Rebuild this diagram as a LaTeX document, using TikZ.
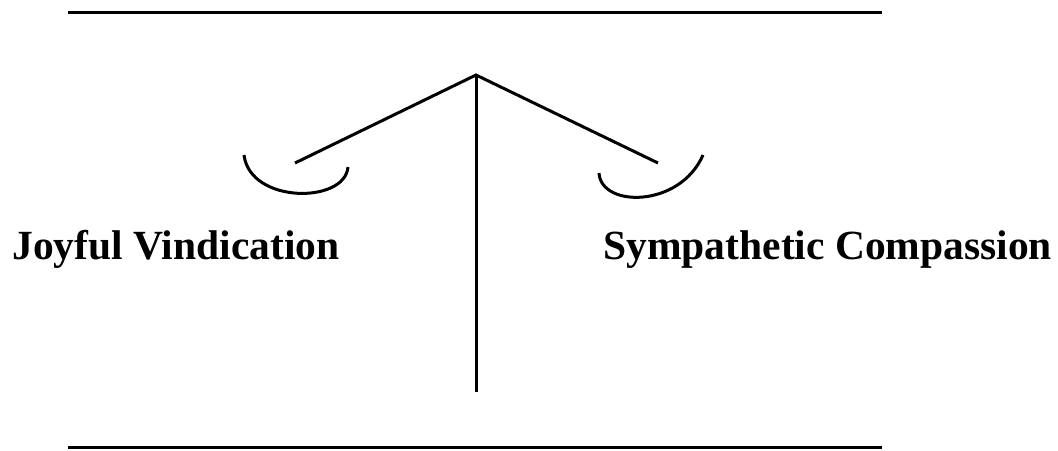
\documentclass[tikz,border=0pt]{standalone}
\usepackage{fontspec}
\setmainfont{Liberation Serif}
\begin{document}
\begin{tikzpicture}[x=1pt,y=-1pt,line width=3pt,
  lbl/.style={font=\fontsize{41.5}{44}\selectfont\bfseries,inner sep=0pt,anchor=base west}]
\useasboundingbox (0,0) rectangle (1058,450);
\coordinate (tl) at (68,12);
\coordinate (tr) at (882,12);
\coordinate (bl) at (68,447);
\coordinate (br) at (882,447);
\coordinate (apex) at (476,75);
\coordinate (foot) at (476,392);
\coordinate (la) at (295,163);
\coordinate (ra) at (658,163);
\draw (tl) -- (tr);
\draw (bl) -- (br);
\draw (apex) -- (foot);
\draw (la) -- (apex) -- (ra);
\draw (244,155) .. controls (250,204) and (345,204) .. (348,167);
\draw (599,173) .. controls (601,208) and (680,208) .. (703,155);
\node[lbl] (jv) at (11,259) {Joyful Vindication};
\node[lbl] (sc) at (602,259) {Sympathetic Compassion};
\end{tikzpicture}
\end{document}
